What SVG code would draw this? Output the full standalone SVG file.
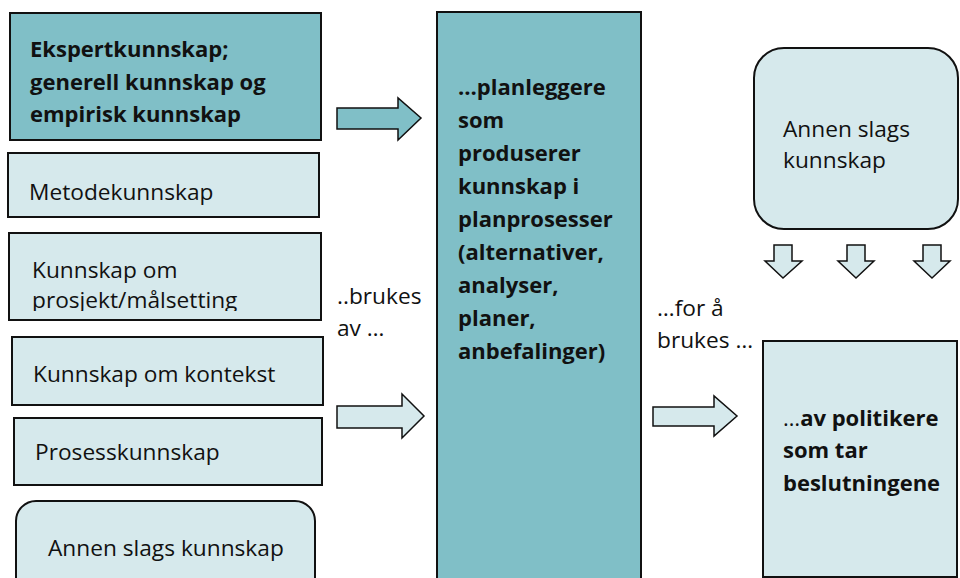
<svg xmlns="http://www.w3.org/2000/svg" width="960" height="578" viewBox="0 0 960 578">
  <style>
    .dark { fill: #80BFC7; stroke: #111; stroke-width: 2; }
    .light { fill: #D6E9EC; stroke: #111; stroke-width: 2; }
    .arrow-dark { fill: #80BFC7; stroke: #111; stroke-width: 1.5; stroke-linejoin: miter; }
    .arrow-light { fill: #D6E9EC; stroke: #111; stroke-width: 1.5; stroke-linejoin: miter; }
    text { font-family: "Open Sans", "Liberation Sans", sans-serif; font-size: 22.7px; fill: #111; }
    .b { font-weight: bold; font-size: 22px; }
    .n { font-weight: normal; }
  </style>
  <defs>
    <clipPath id="clip3"><rect x="0" y="225" width="330" height="86"/></clipPath>
  </defs>
  <rect width="960" height="578" fill="#fff"/>

  <g id="ekspert">
    <rect class="dark" x="10" y="13" width="311" height="127"/>
    <text class="b" x="30" y="57">Ekspertkunnskap;</text>
    <text class="b" x="30" y="90">generell kunnskap og</text>
    <text class="b" x="30" y="122">empirisk kunnskap</text>
  </g>
  <g id="metode">
    <rect class="light" x="8" y="153" width="311" height="64"/>
    <text x="29" y="200">Metodekunnskap</text>
  </g>
  <g id="prosjekt">
    <rect class="light" x="9" y="233" width="312" height="87"/>
    <g clip-path="url(#clip3)">
      <text x="32" y="278">Kunnskap om</text>
      <text x="32" y="308">prosjekt/målsetting</text>
    </g>
  </g>
  <g id="kontekst">
    <rect class="light" x="12" y="337" width="311" height="68"/>
    <text x="33" y="382">Kunnskap om kontekst</text>
  </g>
  <g id="prosess">
    <rect class="light" x="14" y="418" width="308" height="67"/>
    <text x="35" y="460">Prosesskunnskap</text>
  </g>
  <g id="annen-venstre">
    <rect class="light" x="16" y="501" width="299" height="100" rx="20"/>
    <text x="48" y="556">Annen slags kunnskap</text>
  </g>

  <g id="planleggere">
    <rect class="dark" x="437" y="12" width="204" height="580"/>
    <text class="b" x="458" y="95">…planleggere</text>
    <text class="b" x="458" y="128">som</text>
    <text class="b" x="458" y="161">produserer</text>
    <text class="b" x="458" y="194">kunnskap i</text>
    <text class="b" x="458" y="227">planprosesser</text>
    <text class="b" x="458" y="260">(alternativer,</text>
    <text class="b" x="458" y="293">analyser,</text>
    <text class="b" x="458" y="326">planer,</text>
    <text class="b" x="458" y="359">anbefalinger)</text>
  </g>

  <g id="annen-hoyre">
    <rect class="light" x="754" y="48" width="204" height="181" rx="30"/>
    <text x="783" y="137">Annen slags</text>
    <text x="783" y="168">kunnskap</text>
  </g>

  <g id="politikere">
    <rect class="light" x="763" y="341" width="194" height="236"/>
    <text class="b" x="783" y="426"><tspan class="n">…</tspan>av politikere</text>
    <text class="b" x="783" y="458">som tar</text>
    <text class="b" x="783" y="491">beslutningene</text>
  </g>

  <g id="labels">
    <text x="337" y="304">..brukes</text>
    <text x="337" y="336">av …</text>
    <text x="657" y="316">…for å</text>
    <text x="657" y="348">brukes …</text>
  </g>

  <g id="connectors">
    <path class="arrow-dark" d="M337,108 H398 V98 L421,118 L398,140 V129 H337 Z"/>
    <path class="arrow-light" d="M337,406 H402 V394 L424,416 L402,438 V428 H337 Z"/>
    <path class="arrow-light" d="M653,407 H714 V396 L737,416 L714,436 V426 H653 Z"/>
    <path class="arrow-light" d="M774,245 H792 V261 H802 L783,278 L765,261 H774 Z"/>
    <path class="arrow-light" d="M847,245 H865 V261 H874 L856,278 L838,261 H847 Z"/>
    <path class="arrow-light" d="M923,245 H941 V261 H950 L932,278 L914,261 H923 Z"/>
  </g>
</svg>
